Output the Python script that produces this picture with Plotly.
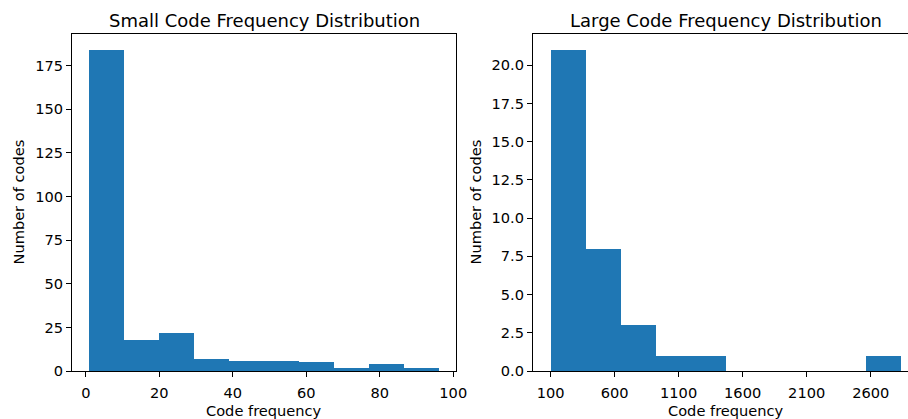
import numpy as np
import plotly.graph_objects as go

# Histogram counts (10 equal-width bins per panel)
small_counts = [184, 18, 22, 7, 6, 6, 5, 2, 4, 2]
small_min, small_max = 1, 96
large_counts = [21, 8, 3, 1, 1, 0, 0, 0, 0, 1]
large_min, large_max = 100, 2840

small_xticks = [0, 20, 40, 60, 80, 100]
small_yticks = [0, 25, 50, 75, 100, 125, 150, 175]
large_xticks = [100, 600, 1100, 1600, 2100, 2600]
large_yticks = [0, 2.5, 5, 7.5, 10, 12.5, 15, 17.5, 20]

BLUE = "#1f77b4"
FONT = "DejaVu Sans"
TICK_SIZE = 14.6
TITLE_SIZE = 18.0


def bins(lo, hi, counts):
    edges = np.linspace(lo, hi, len(counts) + 1)
    centers = (edges[:-1] + edges[1:]) / 2
    width = edges[1] - edges[0]
    return centers, width


sc, sw = bins(small_min, small_max, small_counts)
lc, lw = bins(large_min, large_max, large_counts)

fig = go.Figure()
fig.add_trace(go.Bar(x=sc, y=small_counts, width=sw, marker=dict(color=BLUE, line=dict(width=0)),
                     xaxis="x", yaxis="y", showlegend=False))
fig.add_trace(go.Bar(x=lc, y=large_counts, width=lw, marker=dict(color=BLUE, line=dict(width=0)),
                     xaxis="x2", yaxis="y2", showlegend=False))

W, H = 908, 419
ml, mr, mt, mb = 72, 0, 34, 48
pw = W - ml - mr
d1 = [0, (456 - ml) / pw]
d2 = [(533 - ml) / pw, 1]

s_span = small_max - small_min
l_span = large_max - large_min
small_xrange = [small_min - 0.05 * s_span, small_max + 0.05 * s_span]
# right panel is wider than the canvas; its right edge falls off the page
l_lo = large_min - 0.05 * l_span
l_hi_full = large_max + 0.05 * l_span
full_px = 919 - 533
vis_px = W - 533
large_xrange = [l_lo, l_lo + (l_hi_full - l_lo) * vis_px / full_px]

axis_common = dict(
    showline=True, linecolor="black", linewidth=1.1,
    ticks="outside", ticklen=5, tickwidth=1.1, tickcolor="black",
    showgrid=False, zeroline=False, automargin=False,
    tickfont=dict(family=FONT, size=TICK_SIZE, color="black"),
)

label_font = dict(family=FONT, size=TICK_SIZE, color="black")
title_font = dict(family=FONT, size=TITLE_SIZE, color="black")


def xlabel(xc):
    return dict(text="Code frequency", xref="paper", yref="paper", x=xc, y=0,
                xanchor="center", yanchor="middle", yshift=-39, showarrow=False, font=label_font)


def ylabel(xd, shift):
    return dict(text="Number of codes", xref="paper", yref="paper", x=xd, y=0.5, textangle=-90,
                xanchor="center", yanchor="middle", xshift=shift, showarrow=False, font=label_font)


def title(text, xc):
    return dict(text=text, xref="paper", yref="paper", x=xc, y=1, xanchor="center",
                yanchor="middle", yshift=13.5, showarrow=False, font=title_font)


c1 = (d1[0] + d1[1]) / 2
c2 = ((533 + 919) / 2 - ml) / pw

fig.update_layout(
    width=W, height=H,
    margin=dict(l=ml, r=mr, t=mt, b=mb),
    paper_bgcolor="white", plot_bgcolor="white",
    bargap=0,
    font=dict(family=FONT, color="black"),
    xaxis=dict(domain=d1, range=small_xrange, tickvals=small_xticks, anchor="y", mirror=True,
               ticklabelstandoff=3, **axis_common),
    yaxis=dict(domain=[0, 1], range=[0, max(small_counts) * 1.05], tickvals=small_yticks, anchor="x",
               mirror=True, **axis_common),
    xaxis2=dict(domain=d2, range=large_xrange, tickvals=large_xticks, anchor="y2", mirror=True,
                ticklabelstandoff=3, **axis_common),
    yaxis2=dict(domain=[0, 1], range=[0, max(large_counts) * 1.05], tickvals=large_yticks,
                tickformat=".1f", anchor="x2", mirror=False, **axis_common),
    annotations=[
        title("Small Code Frequency Distribution", c1),
        title("Large Code Frequency Distribution", c2),
        xlabel(c1), xlabel(c2),
        ylabel(d1[0], 18 - 72), ylabel(d2[0], 475 - 533),
    ],
)

fig.write_html("out.html")
